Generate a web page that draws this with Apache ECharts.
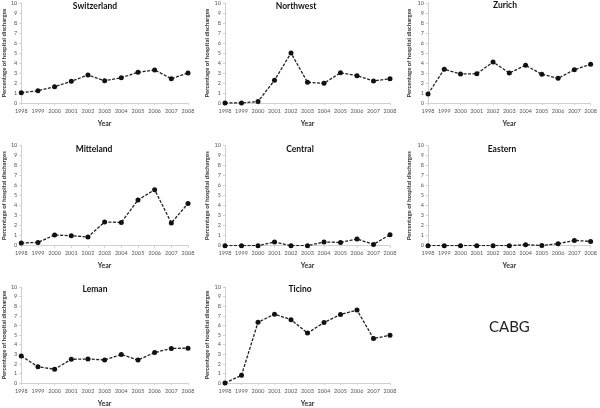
<!DOCTYPE html>
<html><head><meta charset="utf-8">
<script src="https://cdn.jsdelivr.net/npm/echarts@6/dist/echarts.min.js"></script>
<style>html,body{margin:0;padding:0;background:#fff}#c{width:600px;height:408px}</style>
</head><body><div id="c"></div>
<script>
const years = ['1998','1999','2000','2001','2002','2003','2004','2005','2006','2007','2008'];
const yTicks = [0,1,2,3,4,5,6,7,8,9,10];
const regions = ['Switzerland','Northwest','Zurich','Mitteland','Central','Eastern','Leman','Ticino'];
const switzerland = [1.03,1.23,1.63,2.17,2.8,2.23,2.53,3.07,3.3,2.43,3.0];
const northwest = [0,0,0.15,2.27,5.0,2.07,1.97,3.03,2.73,2.2,2.43];
const zurich = [0.9,3.37,2.9,2.93,4.1,3.0,3.77,2.87,2.47,3.33,3.87];
const mitteland = [0.27,0.33,1.07,1.0,0.87,2.37,2.33,4.57,5.6,2.27,4.23];
const central = [0,0,0,0.37,0,0,0.37,0.33,0.67,0.13,1.1];
const eastern = [0,0,0,0,0,0,0.1,0.02,0.2,0.53,0.43];
const leman = [2.8,1.7,1.43,2.47,2.5,2.4,2.97,2.4,3.17,3.6,3.63];
const ticino = [0,0.8,6.33,7.17,6.6,5.2,6.3,7.13,7.6,4.63,4.97];
const seriesData = [switzerland,northwest,zurich,mitteland,central,eastern,leman,ticino];
const chartLabel = 'CABG';

const colLeft = [19,225,428], colWidth = [169,165,166], nameGapY = [14,15,16];
const rowTop = [3,145.7,287], rowH = 100;
const font = 'Lato, "Open Sans", sans-serif';
const titleCenters=[[95,1.5],[296,1.5],[505,1],[94,144.5],[300,144.5],[502,145],[95,284.5],[300,284.5]];

const grids=[], xAxes=[], yAxes=[], series=[], titles=[];
regions.forEach((name,i)=>{
  const c=i%3, r=Math.floor(i/3);
  grids.push({left:colLeft[c], top:rowTop[r], width:colWidth[c], height:rowH, containLabel:false});
  xAxes.push({type:'category', gridIndex:i, data:years, boundaryGap:false,
    name:'Year', nameLocation:'middle', nameGap:17,
    nameTextStyle:{fontFamily:font, fontWeight:'bold', fontSize:7, color:'#333'},
    axisLine:{lineStyle:{color:'#d0d0d0', width:1}},
    axisTick:{show:true, length:2, lineStyle:{color:'#d0d0d0'}},
    axisLabel:{fontFamily:font, fontSize:5.5, color:'#555', margin:5, interval:0},
    splitLine:{show:false}});
  yAxes.push({type:'value', gridIndex:i, min:0, max:10, interval:1,
    name:'Percentage of hospital discharges', nameLocation:'middle', nameGap:nameGapY[c],
    nameTextStyle:{fontFamily:font, fontWeight:'bold', fontSize:6, color:'#333'},
    axisLine:{show:true, lineStyle:{color:'#d0d0d0', width:1}},
    axisTick:{show:true, length:2, lineStyle:{color:'#d0d0d0'}},
    axisLabel:{fontFamily:font, fontSize:5.5, color:'#555', margin:4},
    splitLine:{show:false}});
  series.push({type:'line', xAxisIndex:i, yAxisIndex:i, data:seriesData[i],
    symbol:'circle', symbolSize:5, itemStyle:{color:'#111'},
    lineStyle:{color:'#222', width:1.3, type:[3,1.5]}, animation:false});
  titles.push({text:name, left:titleCenters[i][0], top:titleCenters[i][1], textAlign:'center', padding:0,
    textStyle:{fontFamily:font, fontWeight:'bold', fontSize:8.5, color:'#111'}});
});

const chart = echarts.init(document.getElementById('c'), null, {renderer:'canvas'});
chart.setOption({
  animation:false,
  backgroundColor:'#fff',
  title:titles,
  grid:grids, xAxis:xAxes, yAxis:yAxes, series:series,
  graphic:[{type:'text', left:489, top:320, style:{text:chartLabel, font:'15px '+font, fill:'#222'}}]
});
</script></body></html>
